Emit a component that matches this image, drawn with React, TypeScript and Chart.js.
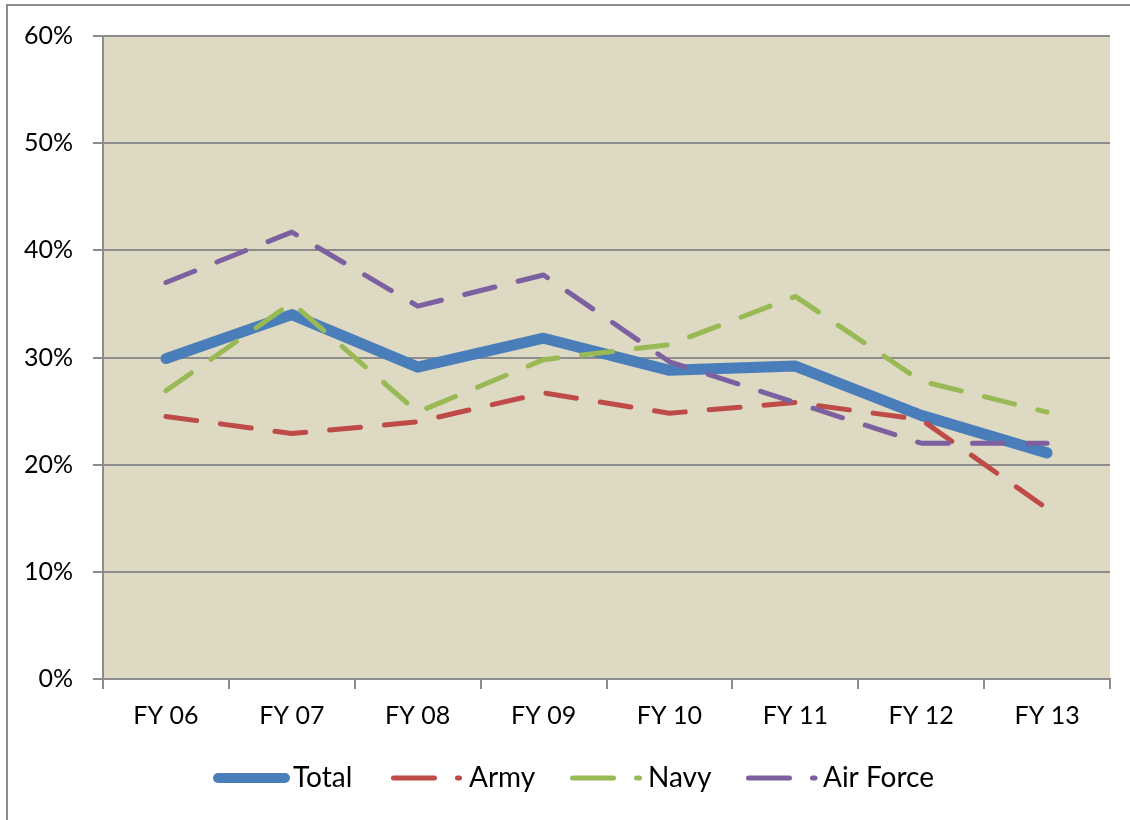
import React, { useEffect, useRef } from "react";
import { Chart, registerables } from "chart.js";

Chart.register(...registerables);

const categories = ["FY 06", "FY 07", "FY 08", "FY 09", "FY 10", "FY 11", "FY 12", "FY 13"];
const totalValues = [29.9, 34.0, 29.1, 31.8, 28.8, 29.2, 24.6, 21.1];
const armyValues = [24.5, 22.9, 24.0, 26.7, 24.8, 25.8, 24.2, 15.9];
const navyValues = [26.9, 35.1, 24.9, 29.8, 31.2, 35.7, 27.8, 24.9];
const airForceValues = [37.0, 41.7, 34.8, 37.7, 29.6, 25.8, 22.0, 22.0];
const yTicks = [0, 10, 20, 30, 40, 50, 60];

const seriesNames = ["Total", "Army", "Navy", "Air Force"];
const seriesColors = ["#4A7EBB", "#BE4B48", "#98B954", "#7D60A0"];

const FONT = "Lato, 'Liberation Sans', sans-serif";
const GRID = "#8C8C8C";

const framePlugin = {
  id: "frameAndBg",
  beforeDraw(chart: any) {
    const { ctx, chartArea } = chart;
    ctx.save();
    ctx.fillStyle = "#DDD9C3";
    ctx.fillRect(chartArea.left, chartArea.top, chartArea.right - chartArea.left, chartArea.bottom - chartArea.top);
    ctx.strokeStyle = GRID;
    ctx.lineWidth = 2;
    ctx.beginPath();
    ctx.moveTo(7, 830);
    ctx.lineTo(7, 5);
    ctx.lineTo(1140, 5);
    ctx.stroke();
    ctx.restore();
  },
};

const legendPlugin = {
  id: "customLegend",
  afterDraw(chart: any) {
    const ctx = chart.ctx;
    const y = 778;
    const items = [
      { start: 218, end: 285, width: 10, dash: [] as number[], text: 293 },
      { start: 393.5, end: 459.5, width: 5, dash: [41, 23], text: 469 },
      { start: 572.5, end: 639.5, width: 5, dash: [41, 23], text: 648 },
      { start: 748.5, end: 815, width: 5, dash: [41, 23], text: 823 },
    ];
    ctx.save();
    items.forEach((it, i) => {
      ctx.strokeStyle = seriesColors[i];
      ctx.lineWidth = it.width;
      ctx.lineCap = "round";
      ctx.setLineDash(it.dash);
      ctx.beginPath();
      ctx.moveTo(it.start, y);
      ctx.lineTo(it.end, y);
      ctx.stroke();
      ctx.setLineDash([]);
      ctx.fillStyle = "#000";
      ctx.font = `28px ${FONT}`;
      ctx.textBaseline = "alphabetic";
      ctx.textAlign = "left";
      ctx.fillText(seriesNames[i], it.text, 787);
    });
    ctx.restore();
  },
};

export default function App() {
  const ref = useRef<HTMLCanvasElement | null>(null);
  useEffect(() => {
    if (!ref.current) return;
    const mk = (i: number, data: number[], width: number, dash: number[]) => ({
      label: seriesNames[i],
      data,
      borderColor: seriesColors[i],
      backgroundColor: seriesColors[i],
      borderWidth: width,
      borderDash: dash,
      borderCapStyle: "round" as const,
      borderJoinStyle: "round" as const,
      pointRadius: 0,
      pointHoverRadius: 0,
      tension: 0,
      fill: false,
    });
    const chart = new Chart(ref.current, {
      type: "line",
      data: {
        labels: categories,
        datasets: [
          mk(3, airForceValues, 5, [31, 24]),
          mk(2, navyValues, 5, [31, 24]),
          mk(1, armyValues, 5, [31, 24]),
          mk(0, totalValues, 11, []),
        ].reverse().reverse(),
      },
      options: {
        responsive: false,
        animation: false,
        devicePixelRatio: 1,
        layout: { padding: { left: 0, right: 20, top: 36, bottom: 81 } },
        plugins: {
          legend: { display: false },
          tooltip: { enabled: false },
        },
        scales: {
          x: {
            type: "category",
            offset: true,
            afterFit: (s: any) => {
              s.height = 60;
            },
            grid: {
              drawOnChartArea: false,
              drawTicks: true,
              offset: true,
              tickLength: 10,
              color: GRID,
              lineWidth: 2,
            },
            border: { display: true, color: GRID, width: 2 },
            ticks: {
              color: "#000",
              font: { family: FONT, size: 25 },
              padding: 12,
              maxRotation: 0,
              autoSkip: false,
            },
          },
          y: {
            min: 0,
            max: 60,
            afterFit: (s: any) => {
              s.width = 103;
            },
            afterBuildTicks: (s: any) => {
              s.ticks = yTicks.map((v) => ({ value: v }));
            },
            grid: {
              color: GRID,
              lineWidth: 2,
              tickLength: 10,
              drawTicks: true,
            },
            border: { display: true, color: GRID, width: 2 },
            ticks: {
              color: "#000",
              font: { family: FONT, size: 25 },
              padding: 20,
              callback: (v: any) => `${v}%`,
            },
          },
        },
      },
      plugins: [framePlugin, legendPlugin],
    });
    return () => chart.destroy();
  }, []);
  return (
    <div style={{ position: "absolute", left: 0, top: 0, width: 1130, height: 820 }}>
      <canvas ref={ref} width={1130} height={820} style={{ width: 1130, height: 820 }} />
    </div>
  );
}
